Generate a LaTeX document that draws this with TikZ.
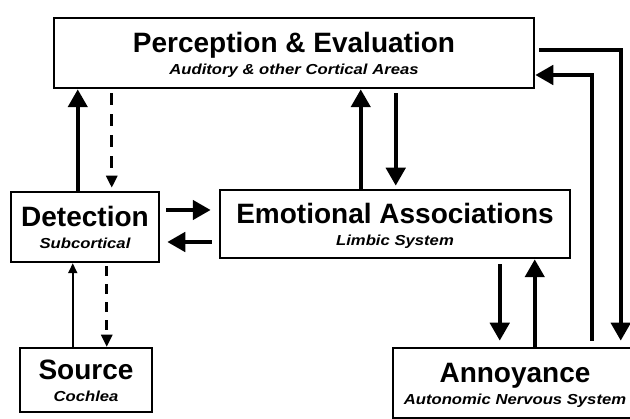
\documentclass[tikz,border=0pt]{standalone}
\usepackage{fontspec}
\setmainfont{Liberation Sans}
\newfontfamily\subfam{Liberation Sans}[FakeStretch=1.15]
\usetikzlibrary{arrows.meta}
\tikzset{%
  blk/.style={draw,line width=2.5pt,inner sep=0pt,align=center,
    text height=46pt,text depth=2pt,
    font=\fontsize{28}{22}\selectfont\bfseries},
  fat/.style={line width=4.5pt,-{Triangle[width=19pt,length=18pt]}},
  slim/.style={line width=2pt,-{Triangle[width=9pt,length=10pt]}},
  dsh/.style={line width=3pt,dash pattern=on 12pt off 9pt,
    -{Triangle[width=11pt,length=12pt]}}
}
\NewDocumentCommand\sub{m}{{\subfam\fontsize{14.5}{22}\selectfont\bfseries\itshape #1}}

\begin{document}
\begin{tikzpicture}[x=1pt,y=-1pt]
  \useasboundingbox (0,0) rectangle (630,419);
  \node[blk,minimum width=480pt,minimum height=70pt] (pe) at (294,53)
    {Perception \& Evaluation\\\sub{Auditory \& other Cortical Areas}};
  \node[blk,minimum width=148pt,minimum height=70pt] (de) at (85,227)
    {Detection\\\sub{Subcortical}};
  \node[blk,minimum width=350pt,minimum height=68pt] (em) at (395,224)
    {Emotional Associations\\\sub{Limbic System}};
  \node[blk,minimum width=132pt,minimum height=64pt] (so) at (86,380)
    {Source\\\sub{Cochlea}};
  \node[blk,minimum width=244pt,minimum height=70pt] (an) at (515,383)
    {Annoyance\\\sub{Autonomic Nervous System}};
  %%
  \draw[fat] ([xshift=68pt]de.north west) -- ([xshift=68pt]de.north west |- pe.south);
  \draw[dsh,shorten <=4pt,shorten >=3pt] ([xshift=102pt]de.north west |- pe.south) -- ([xshift=102pt]de.north west);
  \draw[fat] ([xshift=142pt]em.north west) -- ([xshift=142pt]em.north west |- pe.south);
  \draw[fat,shorten <=4pt,shorten >=3pt] ([xshift=177pt]em.north west |- pe.south) -- ([xshift=177pt]em.north west);
  %%
  \draw[fat,shorten <=6pt,shorten >=8pt] ([yshift=17pt]de.east) -- ([yshift=17pt]de.east -| em.west);
  \draw[fat,shorten <=7pt,shorten >=7pt] ([yshift=-15pt]de.east -| em.west) -- ([yshift=-15pt]de.east);
  %%
  \draw[slim] ([xshift=63pt]de.south west |- so.north) -- ([xshift=63pt]de.south west);
  \draw[dsh,line width=2.6pt,dash pattern=on 10pt off 8pt,shorten <=3pt] ([xshift=97pt]de.south west) -- ([xshift=97pt]de.south west |- so.north);
  %%
  \draw[fat,shorten <=5pt,shorten >=6pt] ([xshift=281pt]em.south west) -- ([xshift=281pt]em.south west |- an.north);
  \draw[fat] ([xshift=316pt]em.south west |- an.north) -- ([xshift=316pt]em.south west);
  %%
  \draw[fat,shorten <=4pt,shorten >=6pt] ([yshift=3pt]pe.east) -| ([xshift=229pt]an.north west);
  \draw[fat,shorten <=6pt] ([xshift=200pt]an.north west) |- ([yshift=-22pt]pe.east);
\end{tikzpicture}
\end{document}
